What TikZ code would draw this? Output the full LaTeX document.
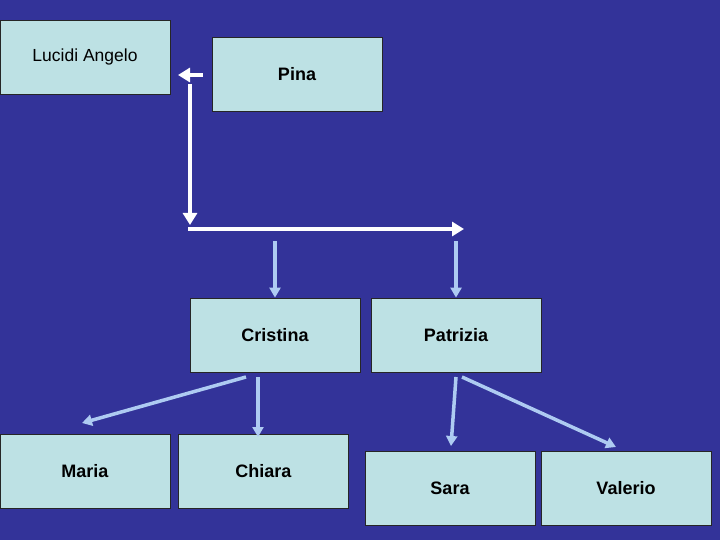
\documentclass[tikz,border=0pt]{standalone}
\usepackage{fontspec}
\setmainfont{Liberation Sans}
\usetikzlibrary{arrows.meta}

\definecolor{slidebg}{HTML}{333399}
\definecolor{boxfill}{HTML}{BDE1E4}
\definecolor{linkblue}{HTML}{AECBF2}

\def\boxW{170pt}
\def\boxH{74pt}

\tikzset{
    person/.style = {draw = black!85, line width = 0.8pt, fill = boxfill,
        minimum width = \boxW, minimum height = \boxH, inner sep = 0pt,
        font = \fontsize{18}{21}\selectfont\bfseries},
    couple/.style = {draw = white, line width = 4.5pt,
        -{Triangle[width = 14pt, length = 12pt]}},
    child/.style = {draw = linkblue, line width = 3.5pt,
        -{Triangle[width = 11pt, length = 10pt]}},
}

\begin{document}
\begin{tikzpicture}[x = 1pt, y = -1pt]
    \fill [slidebg] (0,0) rectangle (720,540);
    \useasboundingbox (0,0) rectangle (720,540);

    % parents
    \node [person, font = \fontsize{17.5}{21}\selectfont] (angelo) at (85,57) {Lucidi Angelo};
    \node [person] (pina) at (297,74) {Pina};

    % children
    \node [person] (cristina) at (275,335) {Cristina};
    \node [person] (patrizia) at (456,335) {Patrizia};

    % grandchildren
    \node [person] (maria) at (85,471) {Maria};
    \node [person] (chiara) at (263.5,471) {Chiara};
    \node [person] (sara) at (450,488) {Sara};
    \node [person] (valerio) at (626,488) {Valerio};

    % free ends of the arrows
    \coordinate (pinaL) at (203,75);
    \coordinate (angeloR) at (178,75);
    \coordinate (lineTop) at (190,84);
    \coordinate (corner) at (190,225);
    \coordinate (lineLeft) at (188,229);
    \coordinate (lineRight) at (464,229);
    \coordinate (toCristina) at (275,241);
    \coordinate (toPatrizia) at (456,241);
    \coordinate (cristinaL) at (246,377);
    \coordinate (cristinaR) at (258,377);
    \coordinate (patriziaL) at (456,377);
    \coordinate (patriziaR) at (462,377);
    \coordinate (toMaria) at (82,423);
    \coordinate (toChiara) at (258,437);
    \coordinate (toSara) at (451,446);
    \coordinate (toValerio) at (616,447);

    \draw [couple] (pinaL) -- (angeloR);
    \draw [couple] (lineTop) -- (corner);
    \draw [couple] (lineLeft) -- (lineRight);

    \draw [child] (toCristina) -- (cristina.north -| toCristina);
    \draw [child] (toPatrizia) -- (patrizia.north -| toPatrizia);

    \draw [child] (cristinaL) -- (toMaria);
    \draw [child] (cristinaR) -- (toChiara);
    \draw [child] (patriziaL) -- (toSara);
    \draw [child] (patriziaR) -- (toValerio);
\end{tikzpicture}
\end{document}
